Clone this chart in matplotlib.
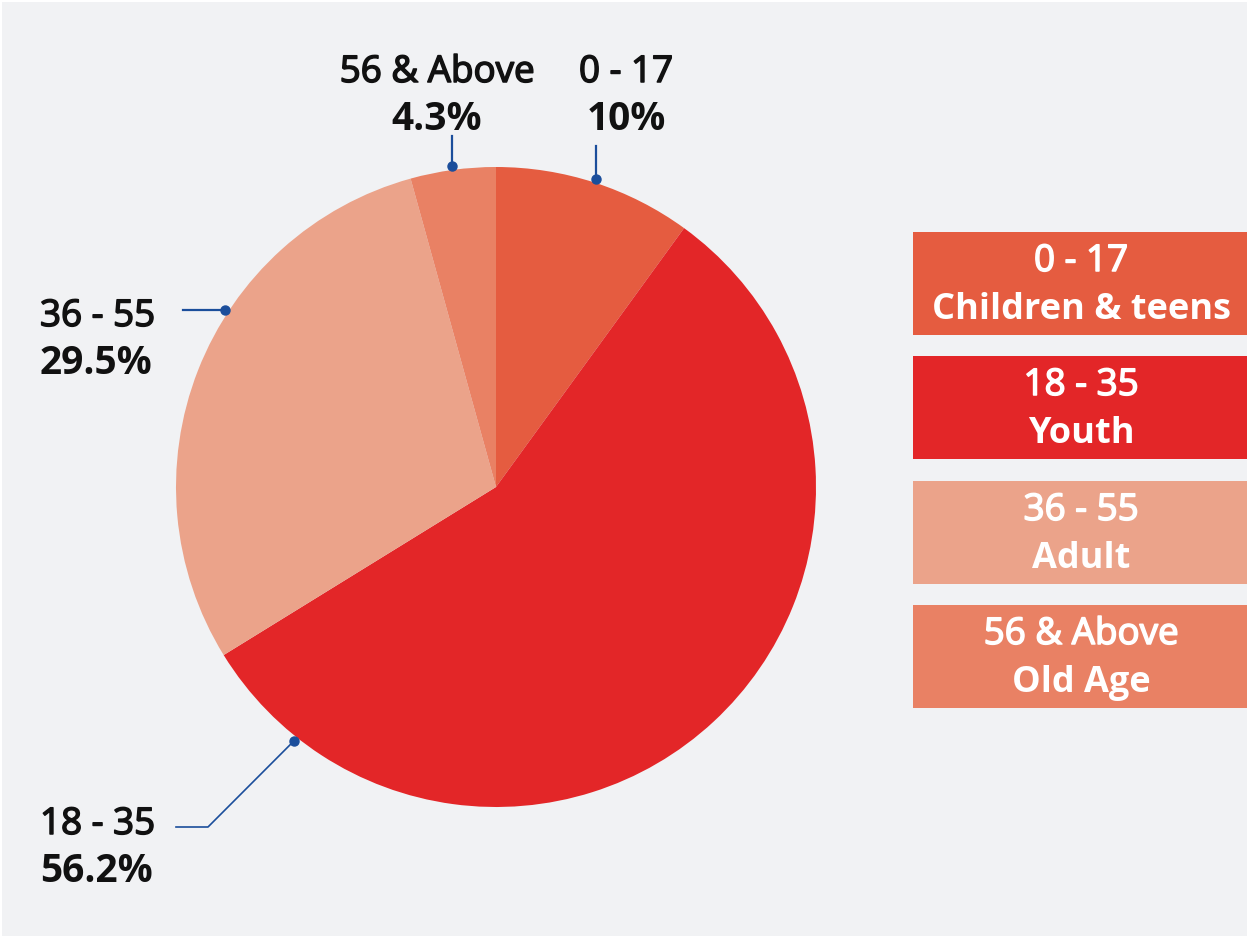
import numpy as np
import matplotlib
matplotlib.use("Agg")
import matplotlib.pyplot as plt
from matplotlib.patches import Rectangle
import matplotlib.patheffects as pe

# ---- data ----
categories = ["0 - 17", "18 - 35", "36 - 55", "56 & Above"]
values = [10.0, 56.2, 29.5, 4.3]
pct_labels = ["10%", "56.2%", "29.5%", "4.3%"]
descriptions = ["Children & teens", "Youth", "Adult", "Old Age"]
colors = ["#E55C40", "#E32628", "#EBA38A", "#E98164"]

BG = "#F1F2F4"
LINE = "#1B4E9B"
FONT = ["Open Sans", "DejaVu Sans"]

W, H = 1247, 936
fig = plt.figure(figsize=(W / 100, H / 100), dpi=100, facecolor="white")
ax = fig.add_axes([0, 0, 1, 1])

cx, cy, R = 496, 487, 320
ax.pie(values, colors=colors, startangle=270, counterclock=True,
       center=(cx, cy), radius=R, wedgeprops=dict(linewidth=0),
       frame=True)
ax.set_xlim(0, W)
ax.set_ylim(H, 0)
ax.set_aspect("auto")
ax.axis("off")
fig.patches.append(Rectangle((2 / W, 0), 1, (H - 2) / H, transform=fig.transFigure,
                             facecolor=BG, edgecolor="none", zorder=-10))
ax.patch.set_visible(False)

def pt(angle_deg, r=R + 4):
    a = np.deg2rad(angle_deg)
    return cx + r * np.cos(a), cy - r * np.sin(a)

fs = 26.5
fs_pct = 28

def semi(color):
    return [pe.withStroke(linewidth=1.1, foreground=color)]

def label(x, y, cat, pct, ha):
    ax.text(x, y, cat, ha=ha, va="baseline", fontsize=fs, fontweight="normal",
            family=FONT, color="#111111", path_effects=semi("#111111"))
    ax.text(x, y + 48, pct, ha=ha, va="baseline", fontsize=fs_pct, fontweight="bold",
            family=FONT, color="#111111")

MS = 6.5
# 0 - 17
dx, dy = pt(72.0)
ax.plot([dx, dx], [146, dy], color=LINE, lw=1.6)
ax.plot(dx, dy, "o", color=LINE, ms=MS)
label(626, 82, categories[0], pct_labels[0], "center")
# 56 & Above
dx, dy = pt(97.8)
ax.plot([dx, dx], [136, dy], color=LINE, lw=1.6)
ax.plot(dx, dy, "o", color=LINE, ms=MS)
label(437, 82, categories[3], pct_labels[3], "center")
# 36 - 55
dx, dy = pt(146.8)
ax.plot([183, dx], [dy, dy], color=LINE, lw=1.6)
ax.plot(dx, dy, "o", color=LINE, ms=MS)
label(40, 326, categories[2], pct_labels[2], "left")
# 18 - 35
dx, dy = pt(-128.5)
ax.plot([176, 208, dx], [827, 827, dy], color=LINE, lw=1.2)
ax.plot(dx, dy, "o", color=LINE, ms=MS)
label(40, 834, categories[1], pct_labels[1], "left")

# legend boxes
box_x, box_w, box_h = 913, 334, 103
box_tops = [232, 356, 481, 605]
for cat, desc, col, top in zip(categories, descriptions, colors, box_tops):
    ax.add_patch(Rectangle((box_x, top), box_w, box_h, facecolor=col,
                           edgecolor="none"))
    xc = box_x + box_w / 2 + 1
    ax.text(xc, top + 39, cat, ha="center", va="baseline", fontsize=fs,
            fontweight="normal", family=FONT, color="white",
            path_effects=semi("white"))
    ax.text(xc, top + 87, desc, ha="center", va="baseline", fontsize=26,
            fontweight="bold", family=FONT, color="white")

fig.savefig("out.png", dpi=100, facecolor="white")
